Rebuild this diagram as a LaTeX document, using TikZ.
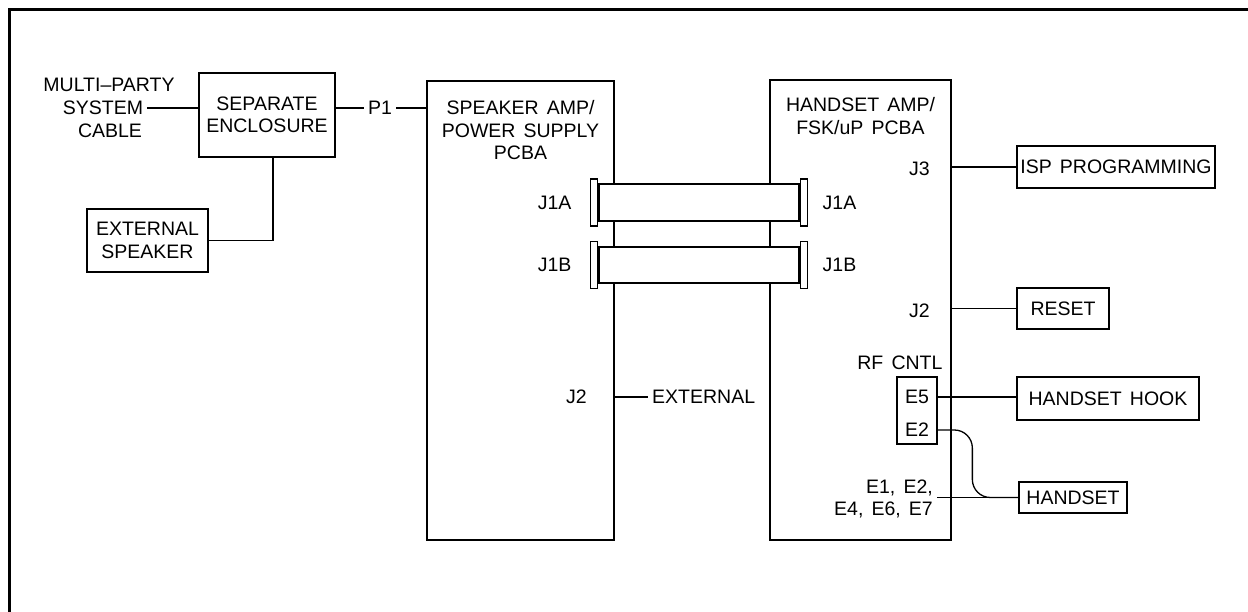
\documentclass[tikz,border=0pt]{standalone}
\usepackage{fontspec}
\setmainfont{Liberation Sans}[WordSpace=1.5]
\usetikzlibrary{positioning}
\tikzset{
  box/.style={draw=black,line width=1.3pt,align=center,inner sep=0pt},
  board/.style={box,minimum width=184pt,minimum height=460pt},
  lbl/.style={inner sep=4pt,align=center},
  cable/.style={box,fill=white,minimum width=200pt},
  flange/.style={box,fill=white,minimum width=7.5pt,minimum height=47pt},
  wire/.style={line width=1.3pt,black},
  frame/.style={line width=3pt,black},
}
\begin{document}
\begin{tikzpicture}[x=1pt,y=-1pt,font=\fontsize{19.5}{22.5}\selectfont]
  \useasboundingbox (0,0) rectangle (1248,612);

  % ---------- OKVIR ----------
  \draw[frame] (9.5,612) -- (9.5,9.5) -- (1248,9.5);

  % ---------- ULAZ ----------
  \node[lbl] (mp)  at (109,85)  {MULTI--PARTY};
  \node[lbl] (sys) at (103,108) {SYSTEM};
  \node[lbl] (cbl) at (110,131) {CABLE};
  \node[box,minimum width=136pt,minimum height=84pt] (sep) at (267,115)
       {SEPARATE\\ENCLOSURE};
  \node[box,minimum width=121pt,minimum height=63pt] (spk) at (147.5,240.5)
       {EXTERNAL\\SPEAKER};
  \node[lbl] (p1) at (380,108) {P1};

  \draw[wire] (sys.east) -- (sys.east -| sep.west);
  \draw[wire] (p1 -| sep.east) -- (p1.west);
  \draw[wire] ([xshift=6pt]sep.south) |- (spk.east);

  % ---------- PLOCE ----------
  \node[board,minimum width=187pt,minimum height=459pt] (spb) at (520.5,310.5) {};
  \node[lbl,anchor=north] at ([yshift=-16pt]spb.north)
       {SPEAKER AMP/\\POWER SUPPLY\\PCBA};
  \node[board,minimum width=181pt] (hsb) at (860.5,310) {};
  \node[lbl,anchor=north] at ([yshift=-14pt]hsb.north)
       {HANDSET AMP/\\FSK/uP PCBA};

  \draw[wire] (p1.east) -- (p1 -| spb.west);

  % kablovi J1A i J1B izmedju ploca
  \foreach \c/\y/\h in {A/202.5/37pt, B/265/36pt}
  {
    \node[cable,minimum height=\h] (c\c) at (699,\y) {};
    \node[flange,left=0pt of c\c]  (l\c) {};
    \node[flange,right=0pt of c\c] (r\c) {};
    \node[lbl,left=14pt of l\c]  {J1\c};
    \node[lbl,right=10pt of r\c] {J1\c};
  }

  % ---------- J2 / EXTERNAL ----------
  \node[lbl,anchor=east] (j2s) at (591,397) {J2};
  \node[lbl,anchor=west] (ext) at (648,397) {EXTERNAL};
  \draw[wire] (ext.west -| spb.east) -- (ext.west);

  % ---------- DESNA STRANA ----------
  \node[lbl,anchor=east] (j3)  at (934,169) {J3};
  \node[lbl,anchor=east] (j2h) at (934,311) {J2};
  \node[box,minimum width=198pt,minimum height=42pt] (isp) at (1116,167)
       {ISP PROGRAMMING};
  \node[box,minimum width=92pt,minimum height=41pt] (rst) at (1063,308.5)
       {RESET};
  \draw[wire] (isp.west -| hsb.east) -- (isp.west);
  \draw[wire] (rst.west -| hsb.east) -- (rst.west);

  % RF CNTL
  \node[box,minimum width=40pt,minimum height=67pt] (eb) at (917,410.5) {};
  \node[lbl] (e5) at (917,397) {E5};
  \node[lbl] (e2) at (917,430) {E2};
  \node[lbl,anchor=south east] (rf) at ([xshift=9pt,yshift=2pt]eb.north east)
       {RF CNTL};
  \node[box,minimum width=182pt,minimum height=43pt] (hook) at (1108,398.5)
       {HANDSET HOOK};
  \node[box,minimum width=108pt,minimum height=31pt] (hs) at (1073,497.5)
       {HANDSET};
  \node[lbl,anchor=east,align=right] (e1) at (937,499) {E1, E2,\\E4, E6, E7};

  \draw[wire] (e5 -| eb.east) -- (e5 -| hook.west);
  \draw[wire,rounded corners=18pt] (e2 -| eb.east) -| ([xshift=-46pt]hs.west)
       -- (hs.west);
  \draw[wire] (hs.west -| e1.east) -- (hs.west);

\end{tikzpicture}
\end{document}
